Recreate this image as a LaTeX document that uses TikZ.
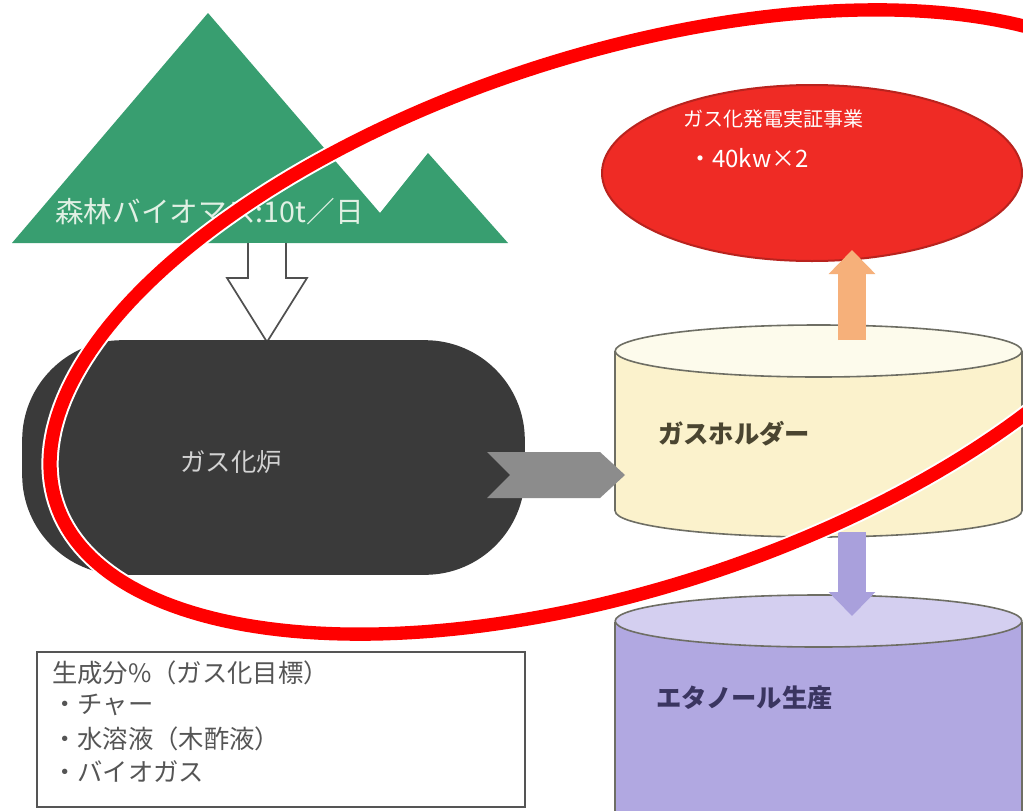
\documentclass[tikz,border=0pt]{standalone}
\usepackage{fontspec}
\setmainfont{Noto Sans CJK JP}
\usetikzlibrary{arrows.meta,shapes.geometric,calc}
\definecolor{mgreen}{RGB}{56,158,112}
\definecolor{furnacec}{RGB}{58,58,58}
\definecolor{chevc}{RGB}{140,140,140}
\definecolor{holderbody}{RGB}{251,242,204}
\definecolor{holdertop}{RGB}{253,251,236}
\definecolor{outl}{RGB}{110,110,100}
\definecolor{orangec}{RGB}{246,176,122}
\definecolor{redc}{RGB}{239,43,37}
\definecolor{redborder}{RGB}{185,35,30}
\definecolor{purplec}{RGB}{169,160,220}
\definecolor{ethbody}{RGB}{177,168,225}
\definecolor{ethtop}{RGB}{212,207,240}
\definecolor{ethtext}{RGB}{58,53,96}
\definecolor{holdtext}{RGB}{74,69,48}
\definecolor{boxtext}{RGB}{85,85,85}
\definecolor{annot}{RGB}{255,0,0}
\tikzset{
  x=0.75pt, y=-0.75pt,
  bigtext/.style={font=\fontsize{19}{22}\selectfont, inner sep=0pt},
  smalltext/.style={font=\fontsize{15}{18}\selectfont, inner sep=0pt, text=white},
  flowarrow/.style={line width=21pt, -{Triangle[width=34pt,length=18pt]}},
  cylout/.style={draw=outl, line width=1.2pt},
}
\begin{document}
\begin{tikzpicture}
\useasboundingbox (0,0) rectangle (1023,810);
\fill[white] (0,0) rectangle (1023,810);

% mountains
\fill[mgreen] (12,243) -- (208,13) -- (380,213) -- (428,153) -- (508,243) -- cycle;
\node[font=\fontsize{21.5}{24}\selectfont, inner sep=0pt, anchor=west, text={rgb,255:red,225;green,240;blue,228}] (mtext) at (55,212) {森林バイオマス:10t／日};

% hollow arrow
\coordinate (hA) at (267,243);
\coordinate (hB) at (267,342);
\fill[white, draw={rgb,255:red,80;green,80;blue,80}, line width=1.3pt, line join=miter]
  ($(hA)+(-19,0)$) -- ($(hA)+(-19,35)$) -- ($(hA)+(-40,35)$) -- (hB)
  -- ($(hA)+(40,35)$) -- ($(hA)+(19,35)$) -- ($(hA)+(19,0)$);

% furnace
\node[fill=furnacec, rounded corners=75pt, minimum width=377pt, minimum height=176pt, inner sep=0pt] (furnace) at (273.5,457.5) {};
\node[bigtext, text={rgb,255:red,210;green,210;blue,210}] (ftext) at (231,462) {ガス化炉};

% ethanol cylinder
\fill[ethbody] (615,622) rectangle (1022,815);
\draw[cylout] (615,622) -- (615,815) (1022,622) -- (1022,815);
\node[ellipse, fill=ethtop, cylout, minimum width=305pt, minimum height=39pt, inner sep=0pt] (ethtopn) at (818.5,621) {};
\node[bigtext, anchor=west, text=ethtext, font=\fontsize{19}{22}\selectfont\bfseries] (etext) at (656,698) {エタノール生産};

% gas holder
\node[ellipse, fill=holderbody, cylout, minimum width=305pt, minimum height=39pt, inner sep=0pt] (hbot) at (818.5,511) {};
\fill[holderbody] (615,351) rectangle (1022,511);
\draw[cylout] (615,351) -- (615,511) (1022,351) -- (1022,511);
\node[ellipse, fill=holdertop, cylout, minimum width=305pt, minimum height=39pt, inner sep=0pt] (htop) at (818.5,351) {};
\node[bigtext, anchor=west, text=holdtext, font=\fontsize{19}{22}\selectfont\bfseries] (htext) at (658,434) {ガスホルダー};

% chevron arrow furnace -> holder
\fill[chevc] (487,452) -- (600,452) -- (625,475) -- (600,498) -- (487,498) -- (510,475) -- cycle;

% red generation ellipse
\node[ellipse, fill=redc, draw=redborder, line width=1.5pt, minimum width=315pt, minimum height=132pt, inner sep=0pt] (gen) at (812,173) {};
\node[smalltext, anchor=west] (gtext1) at (683,119) {ガス化発電実証事業};
\node[smalltext, anchor=west, font=\fontsize{18}{20}\selectfont] (gtext2) at (688,158) {・40kw×2};

% orange and purple arrows
\coordinate (oA) at (852,340);
\coordinate (oB) at (852,250);
\draw[flowarrow, orangec] (oA) -- (oB);
\coordinate (pA) at (852,532);
\coordinate (pB) at (852,616);
\draw[flowarrow, purplec] (pA) -- (pB);

% text box
\draw[boxtext, line width=1pt] (37,652) rectangle (525,807);
\node[bigtext, anchor=west, text=boxtext] (b1) at (52,673) {生成分\%（ガス化目標）};
\node[bigtext, anchor=west, text=boxtext] (b2) at (52,705) {・チャー};
\node[bigtext, anchor=west, text=boxtext] (b3) at (52,739) {・水溶液（木酢液）};
\node[bigtext, anchor=west, text=boxtext] (b4) at (52,772) {・バイオガス};

% annotation ellipse
\begin{scope}
\clip (0,0) rectangle (1023,810);
\draw[white, line width=13pt, line join=round]
  plot[domain=0:360, samples=240] ({618+568*cos(\x)}, {322-142*cos(\x)+278*sin(\x)}) -- cycle;
\draw[annot, line width=10pt, line join=round]
  plot[domain=0:360, samples=240] ({618+568*cos(\x)}, {322-142*cos(\x)+278*sin(\x)}) -- cycle;
\end{scope}
\end{tikzpicture}
\end{document}
